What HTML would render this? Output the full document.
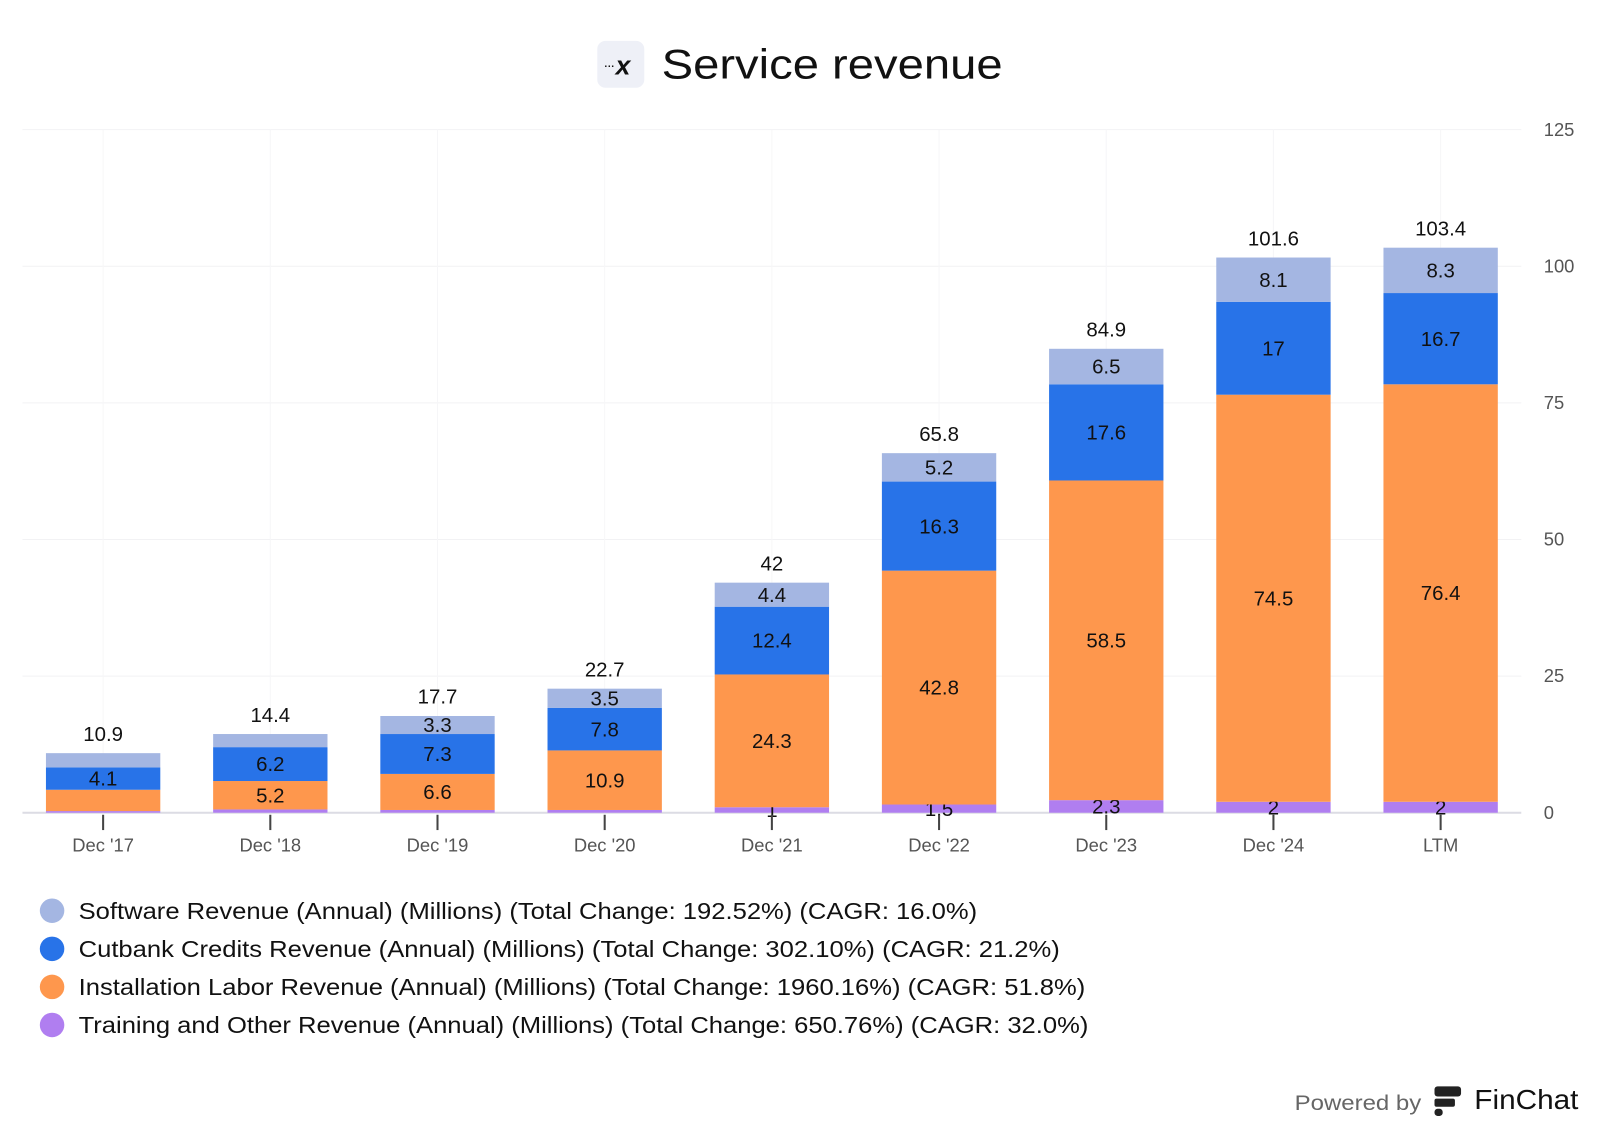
<!DOCTYPE html>
<html><head><meta charset="utf-8"><style>
body{margin:0;background:#fff;font-family:"Liberation Sans",sans-serif;}
#wrap{position:relative;width:1600px;height:1134px;overflow:hidden;}
</style></head><body>
<div id="wrap">
<svg id="chart" width="1600" height="1134">
<g transform="scale(1.021)">
 <g>
  <rect x="585" y="40" width="46" height="46" rx="8" fill="#eef0f7"/>
  <text x="592" y="68" font-size="10" fill="#111" font-weight="bold">···</text>
  <text x="603" y="73" font-size="26" font-weight="bold" font-style="italic" fill="#111">x</text>
  <text x="648" y="77" font-size="41" fill="#111" textLength="334" lengthAdjust="spacingAndGlyphs">Service revenue</text>
 </g>
 <g id="grid"></g><g id="bars"></g><g id="xaxis"></g>
 <g id="legend"></g>
 <g>
  <text x="1268" y="1087" font-size="21" fill="#666" textLength="124" lengthAdjust="spacingAndGlyphs">Powered by</text>
  <rect x="1405" y="1064" width="26" height="10" rx="3" fill="#222"/>
  <rect x="1405" y="1076" width="20" height="8" rx="2" fill="#222"/>
  <rect x="1405" y="1086" width="8" height="7" rx="3" fill="#222"/>
  <text x="1444" y="1086" font-size="27" fill="#111" textLength="102" lengthAdjust="spacingAndGlyphs">FinChat</text>
 </g>
</g>
</svg>
</div>
<script>
const categories=["Dec '17","Dec '18","Dec '19","Dec '20","Dec '21","Dec '22","Dec '23","Dec '24","LTM"];
const training=[0.3,0.6,0.5,0.5,1,1.5,2.3,2,2];
const installation=[3.9,5.2,6.6,10.9,24.3,42.8,58.5,74.5,76.4];
const cutbank=[4.1,6.2,7.3,7.8,12.4,16.3,17.6,17,16.7];
const software=[2.6,2.4,3.3,3.5,4.4,5.2,6.5,8.1,8.3];
const totals=["10.9","14.4","17.7","22.7","42","65.8","84.9","101.6","103.4"];
const trainingLabels=[null,null,null,null,"1","1.5","2.3","2","2"];
const installationLabels=[null,"5.2","6.6","10.9","24.3","42.8","58.5","74.5","76.4"];
const cutbankLabels=["4.1","6.2","7.3","7.8","12.4","16.3","17.6","17","16.7"];
const softwareLabels=[null,null,"3.3","3.5","4.4","5.2","6.5","8.1","8.3"];
const yTicks=[0,25,50,75,100,125];
const legendTexts=["Software Revenue (Annual) (Millions) (Total Change: 192.52%) (CAGR: 16.0%)","Cutbank Credits Revenue (Annual) (Millions) (Total Change: 302.10%) (CAGR: 21.2%)","Installation Labor Revenue (Annual) (Millions) (Total Change: 1960.16%) (CAGR: 51.8%)","Training and Other Revenue (Annual) (Millions) (Total Change: 650.76%) (CAGR: 32.0%)"];
const legendWidths=[880,961,986,989];

const NS="http://www.w3.org/2000/svg";
const y0=796,yMax=125,yTop=127;
const y=v=>y0-(v/yMax)*(y0-yTop);
const x=i=>101+i*163.75;
const bw=112;
function mk(tag,attrs,parent){const e=document.createElementNS(NS,tag);for(const k in attrs)e.setAttribute(k,attrs[k]);parent.appendChild(e);return e;}
const grid=document.getElementById('grid'),bars=document.getElementById('bars'),xa=document.getElementById('xaxis'),lg=document.getElementById('legend');
yTicks.forEach(t=>{
 const l=mk('line',{x1:22,x2:1490,y1:y(t),y2:y(t),stroke:t===0?'#dcdce4':'#f2f2f4','stroke-width':t===0?2:1},grid);
 
 
 const tx=mk('text',{x:1512,y:y(t)+6,'font-size':18,fill:'#555'},grid);tx.textContent=t;
 
 
});
categories.forEach((c,i)=>{
 const vl=mk('line',{x1:x(i),x2:x(i),y1:127,y2:796,stroke:'#f6f6f8'},grid);
 
 
});
const series=[[training,trainingLabels,'#b07ef0','training'],[installation,installationLabels,'#fe974d','installation'],[cutbank,cutbankLabels,'#2873e8','cutbank'],[software,softwareLabels,'#a4b6e2','software']];
categories.forEach((c,i)=>{
 let base=0;
 series.forEach(([vals,labs,col,nm])=>{
  const v=vals[i];
  const r=mk('rect',{x:x(i)-bw/2,y:y(base+v),width:bw,height:y(base)-y(base+v),fill:col},bars);
  
  
  if(labs[i]){const t=mk('text',{x:x(i),y:(y(base)+y(base+v))/2+7,'font-size':20,'text-anchor':'middle',fill:'#111'},bars);t.textContent=labs[i];
   
   }
  base+=v;
 });
 const tt=mk('text',{x:x(i),y:y(base)-12,'font-size':20,'text-anchor':'middle',fill:'#111'},bars);tt.textContent=totals[i];
 
 
 const tk=mk('line',{x1:x(i),x2:x(i),y1:798,y2:813,stroke:'#444','stroke-width':2},xa);
 
 
 const xl=mk('text',{x:x(i),y:834,'font-size':18,'text-anchor':'middle',fill:'#555'},xa);xl.textContent=c;
 
 
});
const lcols=['#a4b6e2','#2873e8','#fe974d','#b07ef0'];
legendTexts.forEach((t,i)=>{
 const cy=892+i*37.3;
 const c=mk('circle',{cx:51,cy:cy,r:12,fill:lcols[i]},lg);
 
 
 const tx=mk('text',{x:77,y:cy+8,'font-size':23,fill:'#111',textLength:legendWidths[i],lengthAdjust:'spacingAndGlyphs'},lg);tx.textContent=t;
 
 
});
</script>
</body></html>
